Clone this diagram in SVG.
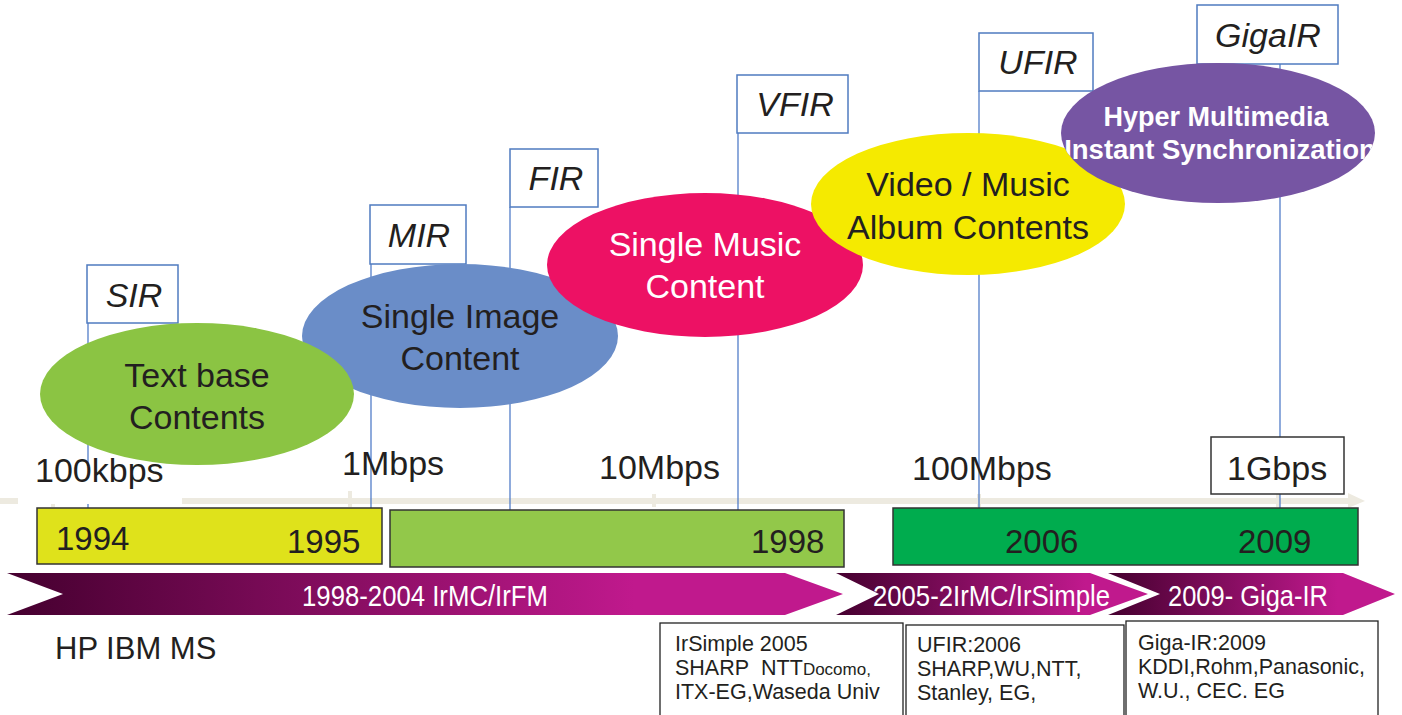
<svg xmlns="http://www.w3.org/2000/svg" width="1402" height="715" viewBox="0 0 1402 715">
  <defs>
    <style>
      .t { font-family: "Liberation Sans", Arial, sans-serif; fill: #231F20; }
      .big { font-size: 34px; }
      .flag { font-size: 34px; font-style: italic; }
      .yr { font-size: 33px; }
      .w { fill: #FFFFFF; }
      .band { font-size: 30px; fill: #FFFFFF; }
      .note { font-size: 21.5px; }
      .flagbox { fill: #FFFFFF; stroke: #4F7BC0; stroke-width: 1.5; }
      .pole { stroke: #4472C4; stroke-width: 1.2; fill: none; }
      .tick { stroke: #EDEAE0; stroke-width: 4; }
      .yearbox { stroke: #333333; stroke-width: 1.5; }
      .notebox { fill: #FFFFFF; stroke: #222222; stroke-width: 1.3; }
    </style>
    <linearGradient id="gBand1" x1="0" y1="0" x2="1" y2="0">
      <stop offset="0" stop-color="#45002F"/>
      <stop offset="0.75" stop-color="#C0198D"/>
      <stop offset="1" stop-color="#C0198D"/>
    </linearGradient>
    <linearGradient id="gBand2" x1="0" y1="0" x2="1" y2="0">
      <stop offset="0" stop-color="#45002F"/>
      <stop offset="0.8" stop-color="#C0198D"/>
      <stop offset="1" stop-color="#C0198D"/>
    </linearGradient>
    <clipPath id="clipHyper">
      <ellipse cx="1218" cy="133" rx="157" ry="70"/>
    </clipPath>
  </defs>

  <!-- speed axis -->
  <g id="axis">
    <line x1="0" y1="501" x2="1352" y2="501" stroke="#EDEAE0" stroke-width="6"/>
    <polygon points="1348,493 1365,501 1348,508" fill="#EDEAE0"/>
    <line class="tick" x1="53" y1="492" x2="53" y2="507"/>
    <line class="tick" x1="350" y1="491" x2="350" y2="507"/>
    <line class="tick" x1="654" y1="494" x2="654" y2="507"/>
    <line class="tick" x1="979" y1="494" x2="979" y2="507"/>
    <line class="tick" x1="1278" y1="494" x2="1278" y2="507"/>
  </g>

  <!-- flag poles from each standard down to the axis -->
  <g id="connectors">
    <line class="pole" x1="88" y1="323" x2="88" y2="508"/>
    <line class="pole" x1="371" y1="264" x2="371" y2="508"/>
    <line class="pole" x1="510" y1="207" x2="510" y2="510"/>
    <line class="pole" x1="738" y1="133" x2="738" y2="510"/>
    <line class="pole" x1="979" y1="91" x2="979" y2="508"/>
    <line class="pole" x1="1280" y1="64" x2="1280" y2="508"/>
  </g>

  <!-- flag labels -->
  <g id="flag-sir">
    <rect class="flagbox" x="87" y="265" width="91" height="58"/>
    <text class="t flag" x="134" y="307" text-anchor="middle">SIR</text>
  </g>
  <g id="flag-mir">
    <rect class="flagbox" x="370" y="205" width="96" height="59"/>
    <text class="t flag" x="419" y="247" text-anchor="middle">MIR</text>
  </g>
  <g id="flag-fir">
    <rect class="flagbox" x="510" y="149" width="88" height="58"/>
    <text class="t flag" x="556" y="190" text-anchor="middle">FIR</text>
  </g>
  <g id="flag-vfir">
    <rect class="flagbox" x="737" y="75" width="111" height="58"/>
    <text class="t flag" x="795" y="116" text-anchor="middle">VFIR</text>
  </g>
  <g id="flag-ufir">
    <rect class="flagbox" x="979" y="33" width="114" height="58"/>
    <text class="t flag" x="1038" y="74" text-anchor="middle">UFIR</text>
  </g>
  <g id="flag-gigair">
    <rect class="flagbox" x="1197" y="5" width="141" height="59"/>
    <text class="t flag" x="1268" y="47" text-anchor="middle">GigaIR</text>
  </g>

  <!-- content ellipses -->
  <g id="node-image">
    <ellipse cx="460" cy="336" rx="158" ry="72" fill="#6A8DC8"/>
    <text class="t big" x="460" y="328" text-anchor="middle">Single Image</text>
    <text class="t big" x="460" y="370" text-anchor="middle">Content</text>
  </g>
  <g id="node-text">
    <ellipse cx="197" cy="394" rx="157" ry="71" fill="#8BC443"/>
    <text class="t big" x="197" y="387" text-anchor="middle">Text base</text>
    <text class="t big" x="197" y="429" text-anchor="middle">Contents</text>
  </g>
  <g id="node-music">
    <ellipse cx="705" cy="265" rx="158" ry="72" fill="#ED1164"/>
    <text class="t big w" x="705" y="256" text-anchor="middle">Single Music</text>
    <text class="t big w" x="705" y="298" text-anchor="middle">Content</text>
  </g>
  <g id="node-album">
    <ellipse cx="968" cy="204" rx="157" ry="71" fill="#F5EA00"/>
    <text class="t big" x="968" y="196" text-anchor="middle">Video / Music</text>
    <text class="t big" x="968" y="239" text-anchor="middle">Album Contents</text>
  </g>
  <g id="node-hyper">
    <ellipse cx="1218" cy="133" rx="157" ry="70" fill="#7655A3"/>
    <g clip-path="url(#clipHyper)">
      <text class="t w" x="1216" y="126" text-anchor="middle" font-size="27" font-weight="bold">Hyper Multimedia</text>
      <text class="t w" x="1220" y="159" text-anchor="middle" font-size="27.5" font-weight="bold">Instant Synchronization</text>
    </g>
  </g>

  <!-- speed labels -->
  <g id="rate-100k">
    <rect x="18" y="466" width="164" height="38" fill="#FFFFFF"/>
    <text class="t big" x="35" y="482">100kbps</text>
  </g>
  <g id="rate-1m">
    <text class="t big" x="342" y="475">1Mbps</text>
  </g>
  <g id="rate-10m">
    <text class="t big" x="599" y="479">10Mbps</text>
  </g>
  <g id="rate-100m">
    <text class="t big" x="912" y="480">100Mbps</text>
  </g>
  <g id="rate-1g">
    <rect x="1211" y="437" width="133" height="57" fill="#FFFFFF" stroke="#333333" stroke-width="1.5"/>
    <text class="t big" x="1227" y="480">1Gbps</text>
  </g>

  <!-- year bars -->
  <g id="years-1994">
    <rect class="yearbox" x="37" y="508" width="345" height="56" fill="#DFE21B"/>
    <text class="t yr" x="56" y="550">1994</text>
    <text class="t yr" x="287" y="553">1995</text>
  </g>
  <g id="years-1998">
    <rect class="yearbox" x="390" y="510" width="454" height="57" fill="#92C84A"/>
    <text class="t yr" x="751" y="553">1998</text>
  </g>
  <g id="years-2006">
    <rect class="yearbox" x="893" y="508" width="465" height="57" fill="#00AC4E"/>
    <text class="t yr" x="1005" y="553">2006</text>
    <text class="t yr" x="1238" y="553">2009</text>
  </g>

  <!-- protocol eras -->
  <g id="era-irmc">
    <polygon points="7,573 785,573 843,594 785,615 7,615 63,594" fill="url(#gBand1)"/>
    <text class="t band" x="302" y="606" textLength="246" lengthAdjust="spacingAndGlyphs">1998-2004 IrMC/IrFM</text>
  </g>
  <g id="era-irsimple">
    <polygon points="836,573 1090,573 1148,594 1090,615 836,615 879,594" fill="url(#gBand2)"/>
    <text class="t band" x="873" y="606" textLength="237" lengthAdjust="spacingAndGlyphs">2005-2IrMC/IrSimple</text>
  </g>
  <g id="era-gigair">
    <polygon points="1108,573 1343,573 1395,594 1343,615 1108,615 1160,594" fill="url(#gBand2)"/>
    <text class="t band" x="1168" y="606" textLength="160" lengthAdjust="spacingAndGlyphs">2009- Giga-IR</text>
  </g>

  <!-- contributors -->
  <g id="note-hp">
    <text class="t" x="55" y="659" font-size="31">HP IBM MS</text>
  </g>
  <g id="note-irsimple">
    <rect class="notebox" x="660" y="623" width="243" height="100"/>
    <text class="t note" x="675" y="651">IrSimple 2005</text>
    <text class="t note" x="675" y="675">SHARP<tspan dx="12">NTT</tspan><tspan font-size="17">Docomo,</tspan></text>
    <text class="t note" x="675" y="699">ITX-EG,Waseda Univ</text>
  </g>
  <g id="note-ufir">
    <rect class="notebox" x="906" y="625" width="218" height="100"/>
    <text class="t note" x="917" y="652">UFIR:2006</text>
    <text class="t note" x="917" y="676">SHARP,WU,NTT,</text>
    <text class="t note" x="917" y="700">Stanley, EG,</text>
  </g>
  <g id="note-gigair">
    <rect class="notebox" x="1126" y="621" width="252" height="100"/>
    <text class="t note" x="1138" y="650">Giga-IR:2009</text>
    <text class="t note" x="1138" y="674">KDDI,Rohm,Panasonic,</text>
    <text class="t note" x="1138" y="698">W.U., CEC. EG</text>
  </g>
</svg>
